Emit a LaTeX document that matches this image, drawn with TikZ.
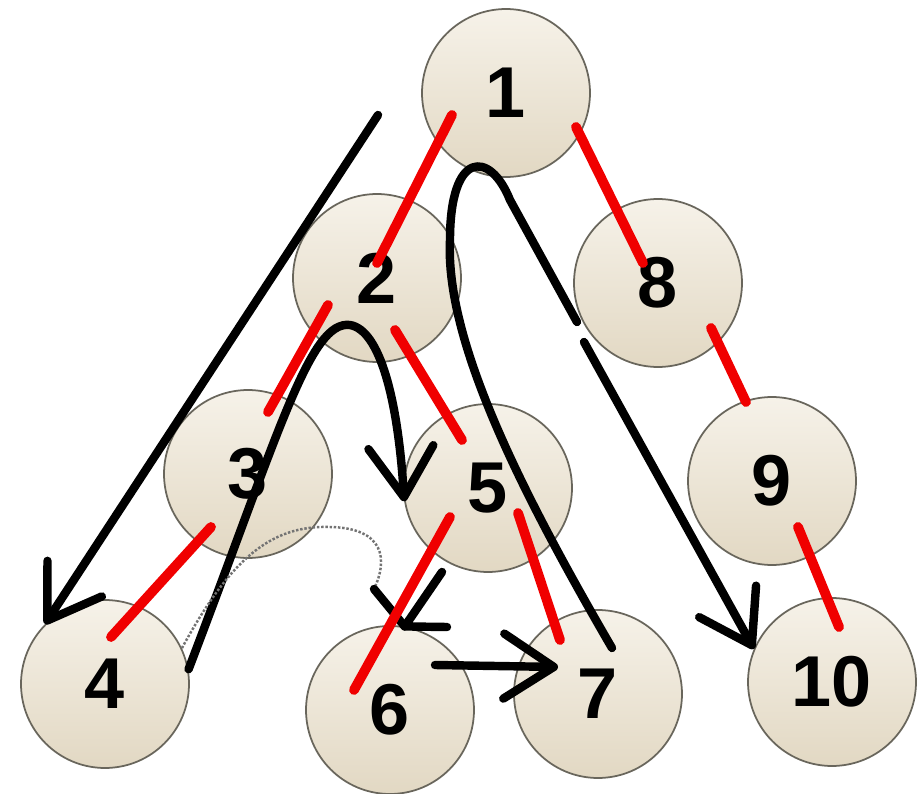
\documentclass[tikz,border=0pt]{standalone}
\usepackage{fontspec}
\setmainfont{Liberation Sans}
\usetikzlibrary{arrows.meta, calc}
\definecolor{ballhi}{RGB}{246,242,233}
\definecolor{balllo}{RGB}{226,216,195}
\definecolor{ballrim}{RGB}{105,102,92}
\definecolor{treered}{RGB}{240,0,0}

\begin{document}
\begin{tikzpicture}[x=0.02cm, y=-0.02cm,
      >={Straight Barb[length=1cm, width=1.3cm, round]},
      treenode/.style={circle, draw=ballrim, line width=1pt, minimum size=3.36cm, inner sep=0pt,
        top color=ballhi, bottom color=balllo, font=\fontsize{41}{41}\selectfont\bfseries},
      treeedge/.style={draw=treered, line width=5.6pt, line cap=round},
      trail/.style={draw=black, line width=4.8pt, line cap=round, line join=round},
      erased/.style={draw=black!55, densely dotted, line width=1.4pt}]
    \useasboundingbox (0,0) rectangle (917,794);
    \node[treenode] (n1) at (506,93) {1};
    \node[treenode] (n2) at (377,278) {2};
    \node[treenode] (n8) at (658,283) {8};
    \node[treenode] (n3) at (248,474) {3};
    \node[treenode] (n5) at (488,488) {5};
    \node[treenode] (n9) at (772,481) {9};
    \node[treenode] (n4) at (105,684) {4};
    \node[treenode] (n6) at (390,710) {6};
    \node[treenode] (n7) at (598,694) {7};
    \node[treenode] (n10) at (832,682) {10};
    \coordinate (aS) at (378,115);
    \coordinate (cS) at (612,648);
    \coordinate (cG) at (577,322);
    \coordinate (cR) at (584,342);
    \coordinate (dK) at (374,589);
    \coordinate (dA) at (442,572);
    \coordinate (dB) at (447,627);
    \draw[trail, ->] (aS) -- (n4.north west);
    \draw[trail, ->] (n4.10) .. controls (280,430) and (310,320) .. (350,325)
      .. controls (380,330) and (398,400) .. (n5.189);
    \draw[trail] (cS) .. controls (520,490) and (445,340) .. (450,240)
      .. controls (450,150) and (490,150) .. (510,200) -- (cG);
    \draw[trail, ->] (cR) -- (n10.157);
    \draw[erased] (n4.25) .. controls (230,560) and (270,525) .. (330,527)
      .. controls (385,528) and (388,560) .. (dK);
    \draw[trail] (dK) -- (n6.80);
    \draw[trail] (dA) -- (n6.80) -- (dB);
    \draw[trail, ->] ($(n6)+(45,-45)$) -- ($(n7)+(-40,-27)$);
    \draw[treeedge] ($(n1)+(-54,22)$) -- ($(n2)+(0,-15)$);
    \draw[treeedge] ($(n1)+(70,34)$) -- ($(n8)+(-15,-20)$);
    \draw[treeedge] ($(n2)+(-49,27)$) -- ($(n3)+(20,-62)$);
    \draw[treeedge] ($(n2)+(18,52)$) -- ($(n5)+(-26,-48)$);
    \draw[treeedge] ($(n8)+(53,45)$) -- ($(n9)+(-26,-79)$);
    \draw[treeedge] ($(n3)+(-37,53)$) -- ($(n4)+(6,-47)$);
    \draw[treeedge] ($(n5)+(-38,29)$) -- ($(n6)+(-36,-20)$);
    \draw[treeedge] ($(n5)+(30,25)$) -- ($(n7)+(-38,-54)$);
    \draw[treeedge] ($(n9)+(26,46)$) -- ($(n10)+(7,-55)$);
  \end{tikzpicture}
\end{document}
